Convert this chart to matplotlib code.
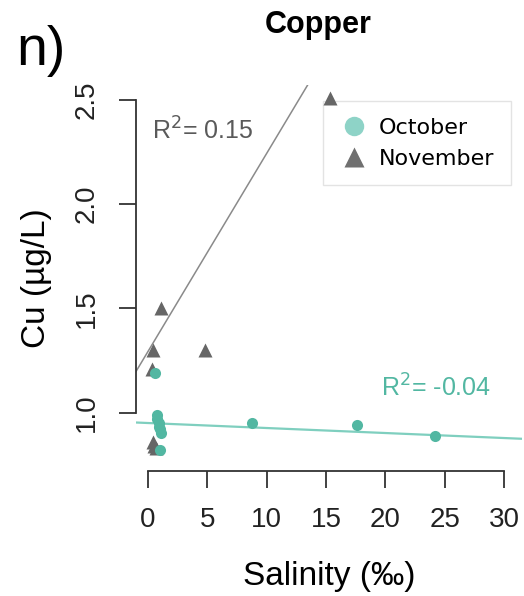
import matplotlib
matplotlib.use("Agg")
import numpy as np
import matplotlib.pyplot as plt
from matplotlib.lines import Line2D

# October (teal circles)
oct_sal = [0.6, 0.8, 0.8, 0.9, 0.9, 1.0, 1.1, 1.0, 8.8, 17.6, 24.2]
oct_cu = [1.19, 0.99, 0.97, 0.95, 0.93, 0.92, 0.90, 0.82, 0.95, 0.94, 0.89]
# November (grey triangles)
nov_sal = [15.3, 1.1, 0.4, 4.8, 0.35, 0.4, 0.5, 0.7]
nov_cu = [2.51, 1.50, 1.30, 1.30, 1.21, 0.86, 0.84, 0.83]

# fitted lines (intercept, slope) and labels
oct_fit = (0.950, -0.0024)
nov_fit = (1.292, 0.095)
oct_r2 = "R$^2$= -0.04"
nov_r2 = "R$^2$= 0.15"

xticks = [0, 5, 10, 15, 20, 25, 30]
yticks = [1.0, 1.5, 2.0, 2.5]

teal = "#52b7a2"
teal_line = "#7fcfbf"
teal_leg = "#8ed3c7"
grey = "#666666"

plt.rcParams['font.family'] = ['Liberation Sans', 'DejaVu Sans']

fig = plt.figure(figsize=(5.24, 5.96), dpi=100)
ax = fig.add_axes([136/524, 1-471/596, (522-136)/524, (471-85)/596])
ax.set_xlim(-1.0, 31.5)
ax.set_ylim(0.72, 2.57)

xs = np.array(ax.get_xlim())
ax.plot(xs, nov_fit[0] + nov_fit[1]*xs, color="#8a8a8a", lw=1.1, zorder=1)
ax.plot(xs, oct_fit[0] + oct_fit[1]*xs, color=teal_line, lw=1.6, zorder=1)

ax.plot(nov_sal, nov_cu, ls="none", marker="^", ms=10, color=grey, mec="none", zorder=6)
ax.plot(oct_sal, oct_cu, ls="none", marker="o", ms=8, color=teal, mec="none", zorder=6)

ax.text(0.34, 2.31, nov_r2, color="#5a5a5a", fontsize=18)
ax.text(19.6, 1.077, oct_r2, color=teal, fontsize=18)

for s in ["top", "right"]:
    ax.spines[s].set_visible(False)
ax.spines["left"].set_bounds(1.0, 2.5)
ax.spines["bottom"].set_bounds(0, 30)
for s in ["left", "bottom"]:
    ax.spines[s].set_color("#333333")
    ax.spines[s].set_linewidth(1.3)

ax.set_xticks(xticks)
ax.set_xticklabels([str(t) for t in xticks])
ax.set_yticks(yticks)
ax.set_yticklabels(["%.1f" % t for t in yticks], rotation=90, va="center")
ax.tick_params(direction="out", length=12, width=1.3, color="#333333",
               labelsize=20, labelcolor="#222222", pad=14)

ax.set_xlabel("Salinity (‰)", fontsize=24, labelpad=20)
ax.set_ylabel("Cu (µg/L)", fontsize=24, labelpad=16)

handles = [Line2D([], [], ls="none", marker="o", ms=14, color=teal_leg, mec="none"),
           Line2D([], [], ls="none", marker="^", ms=15, color="#707070", mec="none")]
leg = ax.legend(handles, ["October", "November"], loc="upper left",
                bbox_to_anchor=((323-136)/386, 1-(101-85)/386),
                borderaxespad=0,
                prop={"family": "DejaVu Sans", "size": 16}, frameon=True,
                fancybox=False, edgecolor="#dddddd", handletextpad=0.45,
                handlelength=1.3, borderpad=0.75, labelspacing=0.5)
leg.get_frame().set_linewidth(1.0)
leg.set_zorder(4)

fig.text(318/524, 1-33/596, "Copper", ha="center", va="baseline",
         fontsize=22, fontweight="bold")
fig.text(16/524, 1-65/596, "n)", ha="left", va="baseline", fontsize=40)

fig.savefig("out.png", dpi=100)
